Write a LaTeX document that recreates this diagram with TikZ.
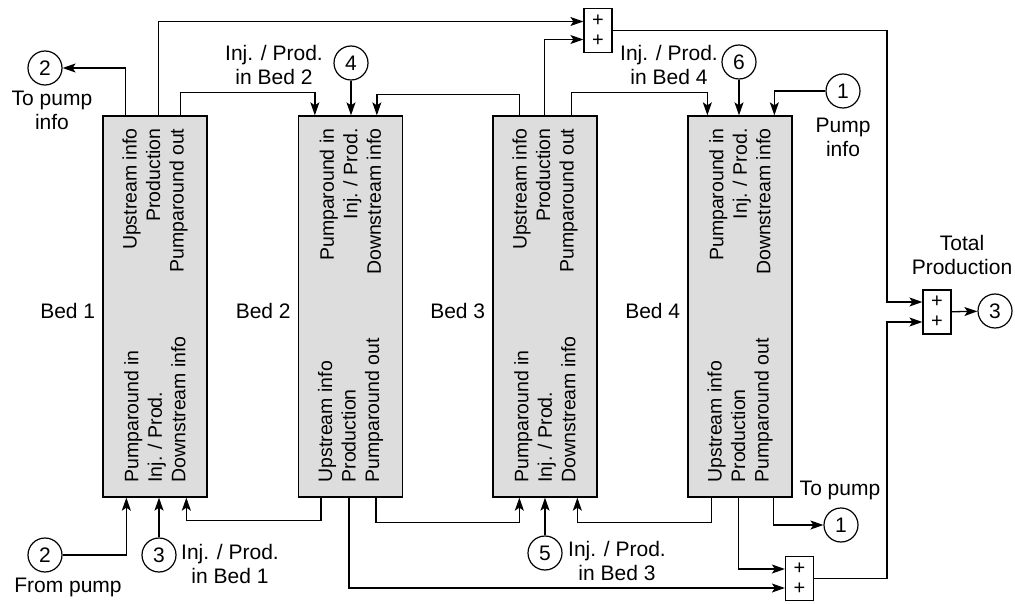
\documentclass[tikz,border=0pt]{standalone}
\usepackage{fontspec}
\setmainfont{Liberation Sans}
\usetikzlibrary{arrows.meta,calc}
\definecolor{bedfill}{RGB}{221,221,221}
\begin{document}
\begin{tikzpicture}[x=1pt,y=-1pt,
  every node/.style={font=\fontsize{21}{24}\selectfont, inner sep=0pt},
  bed/.style={draw, fill=bedfill, line width=1.3pt, minimum width=104pt, minimum height=381pt},
  rtxt/.style={rotate=90, font=\fontsize{19.5}{23.5}\selectfont},
  port/.style={draw, circle, minimum size=34pt, line width=1.2pt},
  sumbox/.style={draw, fill=white, minimum width=28pt, minimum height=44pt, line width=1.2pt, align=center, font=\fontsize{20}{20}\selectfont},
  lbl/.style={align=center},
  conn/.style={line width=1.3pt},
  arr/.style={conn, -{Stealth[length=13pt,width=9pt,inset=3pt]}},
]
\useasboundingbox (0,0) rectangle (1015,604);

% beds
\node[bed] (b1) at (155,306.5) {};
\node[bed] (b2) at (350.5,306.5) {};
\node[bed] (b3) at (545,306.5) {};
\node[bed] (b4) at (740,306.5) {};

% bed texts
\node[rtxt, anchor=east, align=right] (t1a) at ([yshift=-13]b1.north) {Upstream info\\Production\\Pumparound out};
\node[rtxt, anchor=west, align=left] (t1b) at ([yshift=15]b1.south) {Pumparound in\\Inj. / Prod.\\Downstream info};
\node[rtxt, anchor=east, align=right] (t2a) at ([yshift=-13]b2.north) {Pumparound in\\Inj. / Prod.\\Downstream info};
\node[rtxt, anchor=west, align=left] (t2b) at ([yshift=15]b2.south) {Upstream info\\Production\\Pumparound out};
\node[rtxt, anchor=east, align=right] (t3a) at ([yshift=-13]b3.north) {Upstream info\\Production\\Pumparound out};
\node[rtxt, anchor=west, align=left] (t3b) at ([yshift=15]b3.south) {Pumparound in\\Inj. / Prod.\\Downstream info};
\node[rtxt, anchor=east, align=right] (t4a) at ([yshift=-13]b4.north) {Pumparound in\\Inj. / Prod.\\Downstream info};
\node[rtxt, anchor=west, align=left] (t4b) at ([yshift=15]b4.south) {Upstream info\\Production\\Pumparound out};

% bed labels
\node[anchor=east] (l1) at ([xshift=-7,yshift=-4.5]b1.west) {Bed 1};
\node[anchor=east] (l2) at ([xshift=-7,yshift=-4.5]b2.west) {Bed 2};
\node[anchor=east] (l3) at ([xshift=-7,yshift=-4.5]b3.west) {Bed 3};
\node[anchor=east] (l4) at ([xshift=-7,yshift=-4.5]b4.west) {Bed 4};

% ports (circles)
\node[port] (c2t) at (45,68) {2};
\node[port] (c4) at (351,63) {4};
\node[port] (c6) at (739,62) {6};
\node[port] (c1t) at (843,91) {1};
\node[port] (c3r) at (995,311) {3};
\node[port] (c1b) at (841,525) {1};
\node[port] (c2b) at (45,555) {2};
\node[port] (c3b) at (159,555) {3};
\node[port] (c5) at (545,553) {5};

% sum boxes
\node[sumbox] (sT) at (598,30.5) {+\\+};
\node[sumbox] (sS) at (937,312) {+\\+};
\node[sumbox] (sB) at (799.5,578.5) {+\\+};
\coordinate (jr) at (887,0);

% labels
\node[lbl] (lt2) at (52,110) {To pump\\info};
\node[lbl] (lp1) at (843,137) {Pump\\info};
\node[lbl] (lib2) at (274,65) {Inj. / Prod.\\in Bed 2};
\node[lbl] (lib4) at (669,65) {Inj. / Prod.\\in Bed 4};
\node[lbl] (ltp) at (962,254.5) {Total\\Production};
\node[lbl] (ltop) at (840,490) {To pump};
\node[lbl] (lfp) at (68,587) {From pump};
\node[lbl] (lib1) at (230,564) {Inj. / Prod.\\in Bed 1};
\node[lbl] (lib3) at (617,561) {Inj. / Prod.\\in Bed 3};

% top connectors
\draw[arr] ([xshift=23]b1.north west) |- (c2t);
\draw[arr] ([xshift=56]b1.north west) |- ([yshift=9]sT.west);
\draw[arr] ([xshift=78]b1.north west) -- ++(0,-23) -| ([xshift=17]b2.north west);
\draw[arr] (c4) -- (c4 |- b2.north);
\draw[arr] ([xshift=27]b3.north west) -- ++(0,-21) -| ([xshift=79]b2.north west);
\draw[arr] ([xshift=52]b3.north west) |- ([yshift=-9]sT.west);
\draw[arr] ([xshift=79]b3.north west) -- ++(0,-23) -| ([xshift=20]b4.north west);
\draw[arr] (c6) -- (c6 |- b4.north);
\draw[arr] (c1t) -| ([xshift=87]b4.north west);
\draw[arr] (sT.east) -- (sT.east -| jr) |- ([yshift=10]sS.west);

% bottom connectors
\draw[arr] (c2b) -| ([xshift=24]b1.south west);
\draw[arr] (c3b) -- (c3b |- b1.south);
\draw[arr] ([xshift=23]b2.south west) -- ++(0,23) -| ([xshift=84]b1.south west);
\draw[arr] ([xshift=51]b2.south west) |- ([yshift=-9.5]sB.west);
\draw[arr] ([xshift=78]b2.south west) -- ++(0,25) -| ([xshift=27]b3.south west);
\draw[arr] (c5) -- (c5 |- b3.south);
\draw[arr] ([xshift=24]b4.south west) -- ++(0,25) -| ([xshift=85]b3.south west);
\draw[arr] ([xshift=51]b4.south west) |- ([yshift=9.5]sB.west);
\draw[arr] ([xshift=86]b4.south west) |- (c1b);
\draw[arr] (sB.east) -- (sB.east -| jr) |- ([yshift=-10]sS.west);
\draw[arr] (sS) -- (c3r);
\end{tikzpicture}
\end{document}
